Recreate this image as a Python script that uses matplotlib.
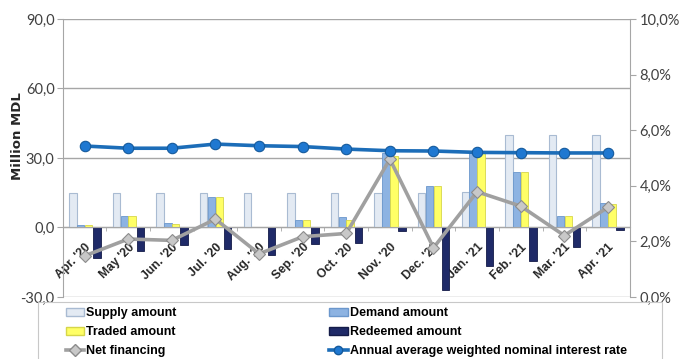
import numpy as np
import matplotlib.pyplot as plt
from matplotlib.lines import Line2D
from matplotlib.patches import Patch, Rectangle

months = ["Apr. '20", "May '20", "Jun. '20", "Jul. '20", "Aug. '20", "Sep. '20", "Oct. '20",
          "Nov. '20", "Dec. '20", "Jan. '21", "Feb. '21", "Mar. '21", "Apr. '21"]
supply = [15, 15, 15, 15, 15, 15, 15, 15, 15, 15.5, 40, 40, 40]
demand = [1.0, 4.8, 1.8, 13.0, 0.0, 3.4, 4.3, 32.0, 17.8, 32.3, 24.0, 5.0, 10.7]
traded = [1.0, 4.8, 1.6, 13.0, 0.2, 3.0, 3.4, 31.0, 17.8, 32.0, 24.0, 5.0, 10.0]
redeemed = [-13.4, -10.0, -7.4, -9.5, -11.7, -7.0, -6.6, -1.7, -27.0, -16.8, -14.7, -8.6, -1.3]
net_fin = [-12.3, -5.0, -5.6, 3.6, -11.4, -4.0, -2.6, 29.5, -8.8, 15.4, 9.2, -3.5, 8.7]
rate = [5.43, 5.35, 5.35, 5.50, 5.44, 5.41, 5.32, 5.26, 5.25, 5.20, 5.19, 5.18, 5.18]

label_font = ['Liberation Sans', 'DejaVu Sans']
num_font = ['Lato', 'DejaVu Sans']
grey_txt = '#404040'

fig = plt.figure(figsize=(6.83, 3.59), dpi=100)
ax = fig.add_axes([0.092, 0.173, 0.830, 0.774])
x = np.arange(len(months))
w = 0.17

ax.bar(x - 0.27, supply, w, color='#e3eaf3', edgecolor='#a9bbd2', linewidth=0.8, zorder=2)
ax.bar(x - 0.09, demand, w, color='#8db3e2', edgecolor='#6b97cc', linewidth=0.6, zorder=2)
ax.bar(x + 0.09, traded, w, color='#ffff66', edgecolor='#d6d64a', linewidth=0.6, zorder=2)
ax.bar(x + 0.28, redeemed, w, color='#1f2a68', edgecolor='#141b48', linewidth=0.6, zorder=2)
ax.plot(x, net_fin, color='#a0a0a0', lw=2.6, marker='D', ms=6.5,
        mfc='#c8c8c8', mec='#8c8c8c', mew=0.8, zorder=4)

ax.set_xlim(-0.5, len(months) - 0.5)
ax.set_ylim(-30, 90)
ax.set_yticks([-30, 0, 30, 60, 90])
ax.set_yticklabels(['-30,0', '0,0', '30,0', '60,0', '90,0'], family=num_font,
                   fontsize=10.5, color=grey_txt)
ax.grid(axis='y', color='#a6a6a6', lw=1.0, zorder=0)
ax.tick_params(axis='y', length=4, color='#a6a6a6', pad=2)

# category axis sits on the zero line
ax.spines['bottom'].set_position(('data', 0))
ax.spines['bottom'].set_color('#a6a6a6')
ax.spines['bottom'].set_zorder(3)
ax.spines['top'].set_visible(False)
ax.spines['right'].set_visible(False)
ax.spines['left'].set_color('#a6a6a6')
ax.set_xticks(x)
ax.set_xticklabels(months, rotation=45, ha='right', rotation_mode='anchor',
                   family=label_font, fontweight='bold', fontsize=8.8, color='#262626')
ax.set_xticks(np.arange(len(months) + 1) - 0.5, minor=True)
ax.tick_params(axis='x', which='major', length=0, pad=10)
ax.tick_params(axis='x', which='minor', length=3, color='#a6a6a6')
ax.set_ylabel('Million MDL', fontweight='bold', fontsize=9.5, color='#262626')
ax.yaxis.set_label_coords(-0.069, 0.58)

ax2 = ax.twinx()
ax2.plot(x, rate, color='#1c6db8', lw=2.6, marker='o', ms=7.5,
         mfc='#1f78d1', mec='#155a9c', mew=0.8, zorder=5)
ax2.set_ylim(0, 10)
ax2.set_yticks(np.arange(0, 11, 2))
ax2.set_yticklabels([f'{v},0%' for v in range(0, 11, 2)], family=num_font,
                    fontsize=10.5, color=grey_txt)
ax2.tick_params(axis='y', length=4, color='#a6a6a6', pad=3)
for s in ['top', 'left', 'bottom']:
    ax2.spines[s].set_visible(False)
ax2.spines['right'].set_color('#a6a6a6')

# legend box runs off the bottom edge
fig.patches.append(Rectangle((0.056, -0.05), 0.913, 0.209, transform=fig.transFigure,
                             facecolor='none', edgecolor='#c8c8c8', lw=0.8))

handles = [
    Patch(facecolor='#e3eaf3', edgecolor='#a9bbd2', label='Supply amount'),
    Patch(facecolor='#ffff66', edgecolor='#d6d64a', label='Traded amount'),
    Line2D([], [], color='#a0a0a0', lw=2.6, marker='D', ms=6, mfc='#c8c8c8',
           mec='#8c8c8c', label='Net financing'),
    Patch(facecolor='#8db3e2', edgecolor='#6b97cc', label='Demand amount'),
    Patch(facecolor='#1f2a68', edgecolor='#141b48', label='Redeemed amount'),
    Line2D([], [], color='#1c6db8', lw=2.6, marker='o', ms=6, mfc='#1f78d1',
           mec='#155a9c', label='Annual average weighted nominal interest rate'),
]
leg = fig.legend(handles=handles, ncol=2, loc='upper left',
                 bbox_to_anchor=(0.096, 0.145),
                 prop={'family': label_font, 'weight': 'bold', 'size': 9},
                 frameon=False, handlelength=1.5, handleheight=0.6, handletextpad=0.15,
                 labelspacing=0.58, columnspacing=12.2, borderpad=0, borderaxespad=0)

fig.savefig('out.png', dpi=100)
